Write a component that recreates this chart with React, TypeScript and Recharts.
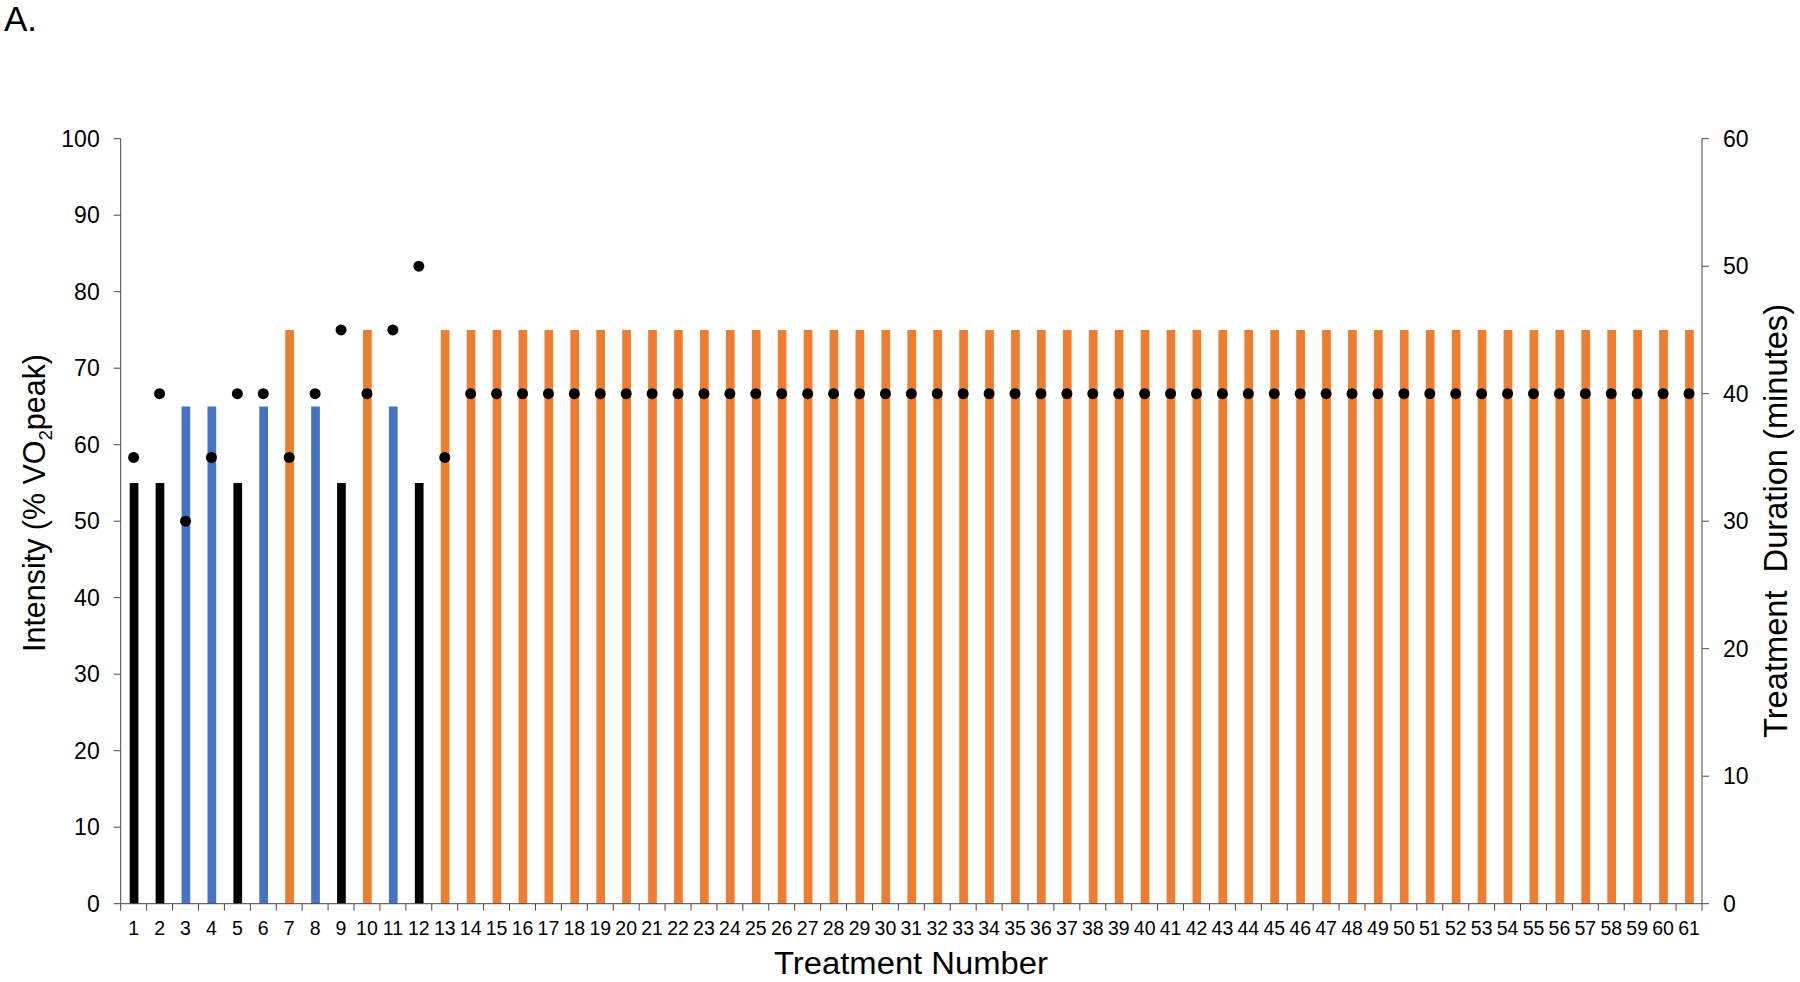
import { ComposedChart, Bar, Line, Cell, XAxis, YAxis } from 'recharts';

// treatment numbers (x categories)
const treatments = [
  1, 2, 3, 4, 5, 6, 7, 8, 9, 10, 11, 12, 13, 14, 15, 16, 17, 18, 19, 20,
  21, 22, 23, 24, 25, 26, 27, 28, 29, 30, 31, 32, 33, 34, 35, 36, 37, 38, 39, 40,
  41, 42, 43, 44, 45, 46, 47, 48, 49, 50, 51, 52, 53, 54, 55, 56, 57, 58, 59, 60, 61,
];

// intensity, % VO2peak (bars, left axis)
const intensity = [
  55, 55, 65, 65, 55, 65, 75, 65, 55, 75, 65, 55, 75, 75, 75, 75, 75, 75, 75, 75,
  75, 75, 75, 75, 75, 75, 75, 75, 75, 75, 75, 75, 75, 75, 75, 75, 75, 75, 75, 75,
  75, 75, 75, 75, 75, 75, 75, 75, 75, 75, 75, 75, 75, 75, 75, 75, 75, 75, 75, 75, 75,
];

// treatment duration, minutes (dots, right axis)
const duration = [
  35, 40, 30, 35, 40, 40, 35, 40, 45, 40, 45, 50, 35, 40, 40, 40, 40, 40, 40, 40,
  40, 40, 40, 40, 40, 40, 40, 40, 40, 40, 40, 40, 40, 40, 40, 40, 40, 40, 40, 40,
  40, 40, 40, 40, 40, 40, 40, 40, 40, 40, 40, 40, 40, 40, 40, 40, 40, 40, 40, 40, 40,
];

const leftTicks = [0, 10, 20, 30, 40, 50, 60, 70, 80, 90, 100];
const rightTicks = [0, 10, 20, 30, 40, 50, 60];

const barColor: Record<number, string> = {
  55: '#000000',
  65: '#4472C4',
  75: '#ED7D31',
};

const data = treatments.map((n, i) => ({ n, intensity: intensity[i], duration: duration[i] }));

const FONT = '"Liberation Sans", Arial, Helvetica, sans-serif';
const AXIS = '#474747';
const PLOT_LEFT = 120.7;
const PLOT_RIGHT = 1702;
const STEP = (PLOT_RIGHT - PLOT_LEFT) / treatments.length;

function XTick(props: any) {
  const { x, y, payload, index } = props;
  const last = index === treatments.length - 1;
  return (
    <g>
      <line x1={x - STEP / 2} y1={y} x2={x - STEP / 2} y2={y + 7} stroke={AXIS} strokeWidth={1} />
      {last && <line x1={x + STEP / 2} y1={y} x2={x + STEP / 2} y2={y + 7} stroke={AXIS} strokeWidth={1} />}
      <text x={x} y={y + 31.5} textAnchor="middle" fontSize={19.5} fontFamily={FONT} fill="#000">
        {payload.value}
      </text>
    </g>
  );
}

export default function App() {
  return (
    <div style={{ position: 'absolute', left: 0, top: 0, width: 1800, height: 982, background: '#fff', fontFamily: FONT }}>
      <ComposedChart
        width={1800}
        height={982}
        data={data}
        margin={{ top: 138.7, right: 8, bottom: 38.3, left: 20.7 }}
      >
        <XAxis
          dataKey="n"
          type="category"
          interval={0}
          height={40}
          tickLine={false}
          tickSize={0}
          tickMargin={0}
          axisLine={{ stroke: AXIS, strokeWidth: 1 }}
          tick={<XTick />}
        />
        <YAxis
          yAxisId="left"
          orientation="left"
          width={100}
          domain={[0, 100]}
          ticks={leftTicks}
          interval={0}
          tickSize={7}
          tickMargin={14}
          axisLine={{ stroke: AXIS, strokeWidth: 1 }}
          tickLine={{ stroke: AXIS, strokeWidth: 1 }}
          tick={{ fontSize: 23, fill: '#000', fontFamily: FONT }}
        />
        <YAxis
          yAxisId="right"
          orientation="right"
          width={90}
          domain={[0, 60]}
          ticks={rightTicks}
          interval={0}
          tickSize={7}
          tickMargin={14}
          axisLine={{ stroke: AXIS, strokeWidth: 1 }}
          tickLine={{ stroke: AXIS, strokeWidth: 1 }}
          tick={{ fontSize: 23, fill: '#000', fontFamily: FONT }}
        />
        <Bar yAxisId="left" dataKey="intensity" barSize={8.7} isAnimationActive={false}>
          {data.map((d, i) => (
            <Cell key={`c-${i}`} fill={barColor[d.intensity]} />
          ))}
        </Bar>
        <Line
          yAxisId="right"
          dataKey="duration"
          stroke="none"
          strokeWidth={0}
          dot={{ r: 5.5, fill: '#000', stroke: 'none' }}
          activeDot={false}
          isAnimationActive={false}
        />
      </ComposedChart>

      <svg
        width={1800}
        height={982}
        style={{ position: 'absolute', left: 0, top: 0, pointerEvents: 'none', overflow: 'visible' }}
      >
        <text x={4} y={31} fontSize={35} fontFamily={FONT} fill="#000">A.</text>
        <text
          x={44.5}
          y={503}
          transform="rotate(-90 44.5 503)"
          textAnchor="middle"
          fontSize={31}
          fontFamily={FONT}
          fill="#000"
          textLength={298}
          lengthAdjust="spacingAndGlyphs"
        >
          <tspan>Intensity (% VO</tspan>
          <tspan fontSize={19} dy={7}>2</tspan>
          <tspan dy={-7}>peak)</tspan>
        </text>
        <text
          x={1787}
          y={521}
          transform="rotate(-90 1787 521)"
          textAnchor="middle"
          fontSize={34}
          fontFamily={FONT}
          fill="#000"
          style={{ whiteSpace: 'pre' }}
          textLength={434}
          lengthAdjust="spacingAndGlyphs"
        >
          {'Treatment  Duration (minutes)'}
        </text>
        <text
          x={911}
          y={973.5}
          textAnchor="middle"
          fontSize={31}
          fontFamily={FONT}
          fill="#000"
          textLength={274}
          lengthAdjust="spacingAndGlyphs"
        >
          Treatment Number
        </text>
      </svg>
    </div>
  );
}
